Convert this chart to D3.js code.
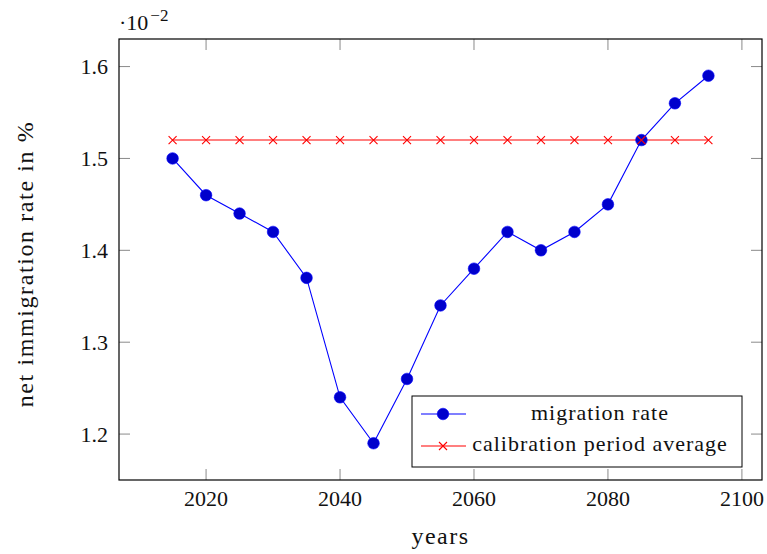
<!DOCTYPE html>
<html>
<head>
<meta charset="utf-8">
<script src="https://cdn.jsdelivr.net/npm/d3@7"></script>
<style>
  body { margin: 0; background: #fff; }
</style>
</head>
<body>
<svg id="chart" width="767" height="554" font-family="'Liberation Serif', 'Times New Roman', serif"></svg>
<script>
// data
var years = [2015, 2020, 2025, 2030, 2035, 2040, 2045, 2050, 2055, 2060, 2065, 2070, 2075, 2080, 2085, 2090, 2095];
var migration = [1.50, 1.46, 1.44, 1.42, 1.37, 1.24, 1.19, 1.26, 1.34, 1.38, 1.42, 1.40, 1.42, 1.45, 1.52, 1.56, 1.59];
var average = [1.52, 1.52, 1.52, 1.52, 1.52, 1.52, 1.52, 1.52, 1.52, 1.52, 1.52, 1.52, 1.52, 1.52, 1.52, 1.52, 1.52];
var xTicks = [2020, 2040, 2060, 2080, 2100];
var yTicks = [1.2, 1.3, 1.4, 1.5, 1.6];
var seriesNames = ['migration rate', 'calibration period average'];

var svg = d3.select('#chart');
var pLeft = 119, pRight = 762, pTop = 39, pBottom = 480;
var serif = "'Liberation Serif', 'Times New Roman', serif";

var x = d3.scaleLinear().domain([2007, 2103]).range([pLeft, pRight]);
var y = d3.scaleLinear().domain([1.15, 1.63]).range([pBottom, pTop]);

var tickLen = 11;
var tickColor = '#8a8a8a';

function label(g) {
    return g.append('text').attr('font-family', serif).attr('fill', '#111');
}

// ticks on all four sides, pointing inward
var ticks = svg.append('g');
xTicks.forEach(function(t) {
    ticks.append('line').attr('x1', x(t)).attr('x2', x(t)).attr('y1', pBottom).attr('y2', pBottom - tickLen)
        .attr('stroke', tickColor);
    ticks.append('line').attr('x1', x(t)).attr('x2', x(t)).attr('y1', pTop).attr('y2', pTop + tickLen)
        .attr('stroke', tickColor);
    label(svg).attr('x', x(t)).attr('y', 506)
        .attr('text-anchor', 'middle').attr('font-size', 22).text(t);
});
yTicks.forEach(function(t) {
    ticks.append('line').attr('y1', y(t)).attr('y2', y(t)).attr('x1', pLeft).attr('x2', pLeft + tickLen)
        .attr('stroke', tickColor);
    ticks.append('line').attr('y1', y(t)).attr('y2', y(t)).attr('x1', pRight).attr('x2', pRight - tickLen)
        .attr('stroke', tickColor);
    label(svg).attr('x', 108).attr('y', y(t) + 7.5)
        .attr('text-anchor', 'end').attr('font-size', 22).text(t.toFixed(1));
});

// exponent label
var expo = label(svg).attr('x', 119).attr('y', 30).attr('font-size', 22);
expo.append('tspan').text('\u00b710');
expo.append('tspan').attr('dy', -9).attr('dx', 2).attr('font-size', 17).text('\u22122');

var line = d3.line()
    .x(function(d, i) { return x(years[i]); })
    .y(function(d) { return y(d); });

function cross(g, cx, cy, s) {
    g.append('path')
        .attr('d', 'M' + (cx - s) + ',' + (cy - s) + 'L' + (cx + s) + ',' + (cy + s) +
                   'M' + (cx - s) + ',' + (cy + s) + 'L' + (cx + s) + ',' + (cy - s))
        .attr('stroke', '#ff0000').attr('stroke-width', 1.1).attr('fill', 'none');
}

// average series line
svg.append('path').attr('d', line(average))
    .attr('fill', 'none').attr('stroke', '#ff0000').attr('stroke-width', 1.1);

// migration series
svg.append('path').attr('d', line(migration))
    .attr('fill', 'none').attr('stroke', '#0000ff').attr('stroke-width', 1.1);
svg.append('g').selectAll('circle').data(migration).join('circle')
    .attr('cx', function(d, i) { return x(years[i]); })
    .attr('cy', function(d) { return y(d); })
    .attr('r', 5.8)
    .attr('fill', '#0000cc').attr('stroke', '#0000ff').attr('stroke-width', 0.6);

var crosses = svg.append('g');
average.forEach(function(d, i) { cross(crosses, x(years[i]), y(d), 4); });

// axis box
svg.append('rect').attr('x', pLeft).attr('y', pTop).attr('width', pRight - pLeft).attr('height', pBottom - pTop)
    .attr('fill', 'none').attr('stroke', '#000').attr('stroke-width', 1.2);

// axis labels
label(svg).attr('x', (pLeft + pRight) / 2).attr('y', 544)
    .attr('text-anchor', 'middle').attr('font-size', 24).attr('letter-spacing', 1.5).text('years');
label(svg)
    .attr('transform', 'translate(33,' + 264 + ') rotate(-90)')
    .attr('text-anchor', 'middle').attr('font-size', 24).attr('letter-spacing', 1.6)
    .text('net immigration rate in %');

// legend
var lg = svg.append('g');
lg.append('rect').attr('x', 412).attr('y', 396).attr('width', 330).attr('height', 71)
    .attr('fill', '#fff').attr('stroke', '#000').attr('stroke-width', 1);
lg.append('line').attr('x1', 421).attr('x2', 466).attr('y1', 414).attr('y2', 414)
    .attr('stroke', '#0000ff').attr('stroke-width', 1.1);
lg.append('circle').attr('cx', 443).attr('cy', 414).attr('r', 5.8)
    .attr('fill', '#0000cc').attr('stroke', '#0000ff').attr('stroke-width', 0.6);
lg.append('line').attr('x1', 421).attr('x2', 466).attr('y1', 446).attr('y2', 446)
    .attr('stroke', '#ff0000').attr('stroke-width', 1.1);
cross(lg, 443, 446, 4);
label(lg).attr('x', 600).attr('y', 420).attr('text-anchor', 'middle')
    .attr('font-size', 22).attr('letter-spacing', 1).text(seriesNames[0]);
label(lg).attr('x', 600).attr('y', 451).attr('text-anchor', 'middle')
    .attr('font-size', 22).attr('letter-spacing', 1).text(seriesNames[1]);
</script>
</body>
</html>
